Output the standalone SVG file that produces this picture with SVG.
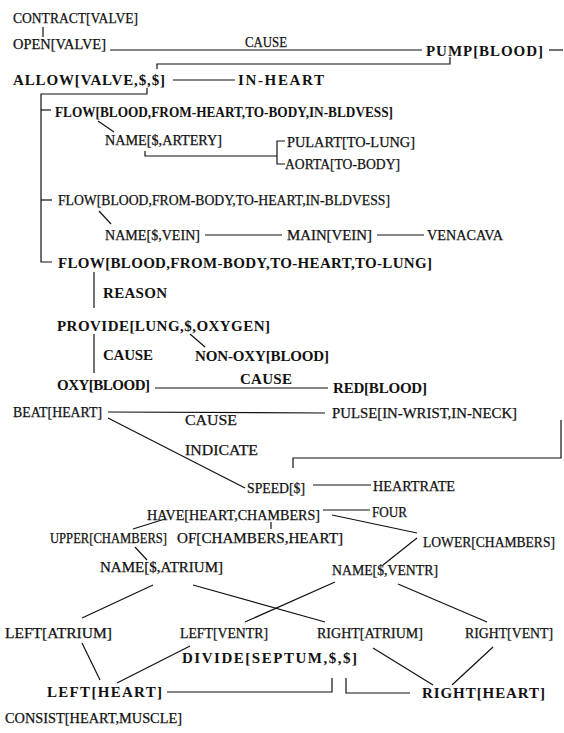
<svg xmlns="http://www.w3.org/2000/svg" width="564" height="733" viewBox="0 0 564 733">
<style>
text{font-family:"Liberation Serif","Times New Roman",serif;fill:#111}
.r{font-size:14px;stroke:#111;stroke-width:0.25}
.b{font-size:15px;font-weight:bold}
.c line,.c polyline{stroke:#111;stroke-width:1.2;fill:none}
</style>
<rect width="564" height="733" fill="#fff"/>
<g class="c" id="connectors">
<line x1="43" y1="27" x2="43" y2="37"/>
<line x1="110" y1="50" x2="422" y2="50"/>
<line x1="549" y1="50" x2="563" y2="50"/>
<polyline points="450,57 450,64 157,64 157,69"/>
<line x1="173" y1="80" x2="235" y2="80"/>
<polyline points="147,88 147,94 41,94 41,262 52,262"/>
<line x1="41" y1="110" x2="51" y2="110"/>
<line x1="41" y1="200" x2="52" y2="200"/>
<line x1="98" y1="121" x2="114" y2="132"/>
<polyline points="145,151 145,156 277,156"/>
<polyline points="285,141 277,141 277,164 285,164"/>
<line x1="99" y1="211" x2="111" y2="224"/>
<line x1="205" y1="235" x2="282" y2="235"/>
<line x1="377" y1="235" x2="424" y2="235"/>
<line x1="94" y1="272" x2="94" y2="308"/>
<line x1="94" y1="334" x2="94" y2="373"/>
<line x1="190" y1="334" x2="205" y2="347"/>
<line x1="155" y1="388" x2="328" y2="388"/>
<line x1="108" y1="412" x2="325" y2="413"/>
<line x1="108" y1="418" x2="245" y2="488"/>
<line x1="313" y1="485" x2="371" y2="485"/>
<polyline points="561,420 561,458 293,458 293,468"/>
<line x1="323" y1="510" x2="370" y2="510"/>
<line x1="271" y1="522" x2="271" y2="529"/>
<line x1="165" y1="519" x2="133" y2="529"/>
<line x1="332" y1="515" x2="417" y2="533"/>
<line x1="135" y1="547" x2="147" y2="560"/>
<line x1="417" y1="538" x2="383" y2="565"/>
<line x1="153" y1="585" x2="82" y2="618"/>
<line x1="193" y1="585" x2="325" y2="622"/>
<line x1="335" y1="582" x2="245" y2="622"/>
<line x1="398" y1="584" x2="487" y2="622"/>
<line x1="82" y1="643" x2="100" y2="680"/>
<line x1="190" y1="646" x2="117" y2="683"/>
<line x1="373" y1="648" x2="433" y2="685"/>
<line x1="493" y1="647" x2="452" y2="685"/>
<polyline points="167,692 332,692 332,678"/>
<polyline points="346,678 346,693 410,693"/>
</g>
<g id="n1"><text class="r" x="13" y="23" textLength="125" lengthAdjust="spacingAndGlyphs">CONTRACT[VALVE]</text></g>
<g id="n2"><text class="r" x="13" y="49" textLength="93" lengthAdjust="spacingAndGlyphs">OPEN[VALVE]</text></g>
<g id="l1"><text class="r" x="245" y="47" textLength="42" lengthAdjust="spacingAndGlyphs">CAUSE</text></g>
<g id="n3"><text class="b" x="426" y="56" textLength="117" lengthAdjust="spacing">PUMP[BLOOD]</text></g>
<g id="n4"><text class="b" x="13" y="85" textLength="152" lengthAdjust="spacing">ALLOW[VALVE,$,$]</text></g>
<g id="n5"><text class="b" x="238" y="85" textLength="86" lengthAdjust="spacing">IN-HEART</text></g>
<g id="n6"><text class="b" x="55" y="117" textLength="338" lengthAdjust="spacingAndGlyphs">FLOW[BLOOD,FROM-HEART,TO-BODY,IN-BLDVESS]</text></g>
<g id="n7"><text class="r" x="105" y="145" textLength="117" lengthAdjust="spacingAndGlyphs">NAME[$,ARTERY]</text></g>
<g id="n8"><text class="r" x="287" y="147" textLength="128" lengthAdjust="spacingAndGlyphs">PULART[TO-LUNG]</text></g>
<g id="n9"><text class="r" x="285" y="169" textLength="115" lengthAdjust="spacingAndGlyphs">AORTA[TO-BODY]</text></g>
<g id="n10"><text class="r" x="58" y="205" textLength="332" lengthAdjust="spacingAndGlyphs">FLOW[BLOOD,FROM-BODY,TO-HEART,IN-BLDVESS]</text></g>
<g id="n11"><text class="r" x="105" y="240" textLength="95" lengthAdjust="spacingAndGlyphs">NAME[$,VEIN]</text></g>
<g id="n12"><text class="r" x="287" y="240" textLength="85" lengthAdjust="spacingAndGlyphs">MAIN[VEIN]</text></g>
<g id="n13"><text class="r" x="427" y="240" textLength="76" lengthAdjust="spacingAndGlyphs">VENACAVA</text></g>
<g id="n14"><text class="b" x="58" y="268" textLength="374" lengthAdjust="spacing">FLOW[BLOOD,FROM-BODY,TO-HEART,TO-LUNG]</text></g>
<g id="l2"><text class="b" x="103" y="298" textLength="64" lengthAdjust="spacing">REASON</text></g>
<g id="n15"><text class="b" x="57" y="331" textLength="213" lengthAdjust="spacing">PROVIDE[LUNG,$,OXYGEN]</text></g>
<g id="l3"><text class="b" x="103" y="360" textLength="50" lengthAdjust="spacing">CAUSE</text></g>
<g id="n16"><text class="b" x="195" y="361" textLength="134" lengthAdjust="spacing">NON-OXY[BLOOD]</text></g>
<g id="n17"><text class="b" x="57" y="390" textLength="93" lengthAdjust="spacing">OXY[BLOOD]</text></g>
<g id="l4"><text class="b" x="240" y="384" textLength="52" lengthAdjust="spacing">CAUSE</text></g>
<g id="n18"><text class="b" x="333" y="393" textLength="94" lengthAdjust="spacing">RED[BLOOD]</text></g>
<g id="n19"><text class="r" x="13" y="417" textLength="89" lengthAdjust="spacingAndGlyphs">BEAT[HEART]</text></g>
<g id="l5"><text class="r" x="185" y="425" textLength="52" lengthAdjust="spacingAndGlyphs">CAUSE</text></g>
<g id="n20"><text class="r" x="332" y="418" textLength="185" lengthAdjust="spacingAndGlyphs">PULSE[IN-WRIST,IN-NECK]</text></g>
<g id="l6"><text class="r" x="185" y="455" textLength="73" lengthAdjust="spacingAndGlyphs">INDICATE</text></g>
<g id="n21"><text class="r" x="247" y="493" textLength="58" lengthAdjust="spacingAndGlyphs">SPEED[$]</text></g>
<g id="n22"><text class="r" x="373" y="491" textLength="82" lengthAdjust="spacingAndGlyphs">HEARTRATE</text></g>
<g id="n23"><text class="r" x="147" y="520" textLength="173" lengthAdjust="spacingAndGlyphs">HAVE[HEART,CHAMBERS]</text></g>
<g id="n24"><text class="r" x="372" y="517" textLength="35" lengthAdjust="spacingAndGlyphs">FOUR</text></g>
<g id="n25"><text class="r" x="50" y="543" textLength="117" lengthAdjust="spacingAndGlyphs">UPPER[CHAMBERS]</text></g>
<g id="n26"><text class="r" x="177" y="543" textLength="166" lengthAdjust="spacingAndGlyphs">OF[CHAMBERS,HEART]</text></g>
<g id="n27"><text class="r" x="423" y="547" textLength="132" lengthAdjust="spacingAndGlyphs">LOWER[CHAMBERS]</text></g>
<g id="n28"><text class="r" x="100" y="572" textLength="123" lengthAdjust="spacingAndGlyphs">NAME[$,ATRIUM]</text></g>
<g id="n29"><text class="r" x="332" y="575" textLength="106" lengthAdjust="spacingAndGlyphs">NAME[$,VENTR]</text></g>
<g id="n30"><text class="r" x="5" y="638" textLength="107" lengthAdjust="spacingAndGlyphs">LEFT[ATRIUM]</text></g>
<g id="n31"><text class="r" x="180" y="638" textLength="88" lengthAdjust="spacingAndGlyphs">LEFT[VENTR]</text></g>
<g id="n32"><text class="r" x="317" y="638" textLength="106" lengthAdjust="spacingAndGlyphs">RIGHT[ATRIUM]</text></g>
<g id="n33"><text class="r" x="465" y="638" textLength="88" lengthAdjust="spacingAndGlyphs">RIGHT[VENT]</text></g>
<g id="n34"><text class="b" x="182" y="663" textLength="175" lengthAdjust="spacing">DIVIDE[SEPTUM,$,$]</text></g>
<g id="n35"><text class="b" x="47" y="697" textLength="115" lengthAdjust="spacing">LEFT[HEART]</text></g>
<g id="n36"><text class="b" x="422" y="698" textLength="123" lengthAdjust="spacing">RIGHT[HEART]</text></g>
<g id="n37"><text class="r" x="5" y="723" textLength="177" lengthAdjust="spacingAndGlyphs">CONSIST[HEART,MUSCLE]</text></g>
</svg>
